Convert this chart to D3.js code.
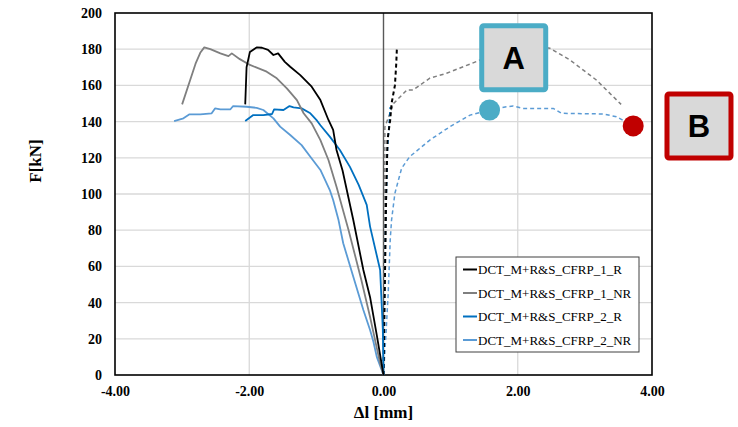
<!DOCTYPE html>
<html>
<head>
<meta charset="utf-8">
<script src="https://cdn.jsdelivr.net/npm/d3@7"></script>
<style>
  body { margin: 0; background: #fff; }
  svg { display: block; }
</style>
</head>
<body>
<div id="chart"></div>
<script>
// values: [Δl mm, F kN]
const cfrp1R = [[-2.06,149.5],[-2.04,170],[-1.99,178.5],[-1.89,181],[-1.81,180.8],[-1.72,179.6],[-1.64,176.8],[-1.57,177.7],[-1.47,173],[-1.39,170.3],[-1.24,165.7],[-1.07,159.3],[-0.94,151.9],[-0.82,140.9],[-0.75,135.4],[-0.70,124.3],[-0.61,113],[-0.45,85.6],[-0.30,58],[-0.20,43],[-0.10,22],[0,0]];
const cfrp1NR = [[-3.0,149.5],[-2.88,163],[-2.80,172],[-2.73,178],[-2.67,181],[-2.58,180],[-2.43,177.7],[-2.31,176.2],[-2.26,177.7],[-2.14,174.5],[-1.99,171.3],[-1.74,167.6],[-1.59,163.9],[-1.44,158.4],[-1.29,151.9],[-1.19,144.6],[-1.07,139],[-0.94,129.8],[-0.82,118.8],[-0.70,104],[-0.52,80],[-0.33,52.5],[-0.20,32],[-0.05,6.4],[0,0]];
const cfrp2R = [[-2.06,140.3],[-1.94,143.6],[-1.79,143.6],[-1.66,144.2],[-1.63,146.8],[-1.49,146.4],[-1.40,148.6],[-1.34,147.9],[-1.22,147.3],[-1.09,144.6],[-0.99,140.5],[-0.94,138],[-0.80,131.7],[-0.65,124.3],[-0.50,115],[-0.37,105],[-0.25,94],[-0.20,82],[-0.05,58],[-0.01,25],[0,0]];
const cfrp2NR = [[-3.12,140.3],[-2.98,141.8],[-2.89,144],[-2.73,144],[-2.56,144.6],[-2.51,147.3],[-2.43,146.8],[-2.28,146.8],[-2.24,148.6],[-2.04,148.2],[-1.89,147.6],[-1.79,146.4],[-1.64,141.8],[-1.54,137.2],[-1.39,132.6],[-1.22,127],[-1.09,120.6],[-0.94,113.3],[-0.80,102.2],[-0.75,96.7],[-0.67,85.6],[-0.60,72.8],[-0.45,54.3],[-0.30,35.9],[-0.20,24.9],[-0.15,18.4],[-0.10,10],[0,0]];

// second gauge (dashed, not in legend)
const cfrp1RDash = [[0,0],[0.02,50],[0.04,100],[0.06,130],[0.10,141],[0.12,150],[0.17,160],[0.19,172],[0.20,181]];
const cfrp1NRDash = [[0,0],[0.01,60],[0.02,120],[0.02,137],[0.15,150],[0.35,157.5],[0.44,157.5],[0.69,164],[0.94,166.7],[1.44,174],[1.90,180],[2.20,182],[2.48,180.5],[2.78,174],[3.17,163],[3.54,149.5]];
const cfrp2RDash = [[0,0],[0.03,80],[0.06,125],[0.10,148]];
const cfrp2NRDash = [[0,0],[0.04,25],[0.07,45],[0.10,74.6],[0.12,85.6],[0.17,100.4],[0.27,114.2],[0.39,120.6],[0.69,129.8],[0.99,137.2],[1.29,143.6],[1.58,146.4],[1.83,148.2],[1.93,148.6],[2.08,147.3],[2.53,147.3],[2.65,144.6],[3.27,144.2],[3.47,142.7],[3.72,137.6]];

const xTicks = [-4, -2, 0, 2, 4];
const yTicks = [0, 20, 40, 60, 80, 100, 120, 140, 160, 180, 200];
const legendNames = ['DCT_M+R&S_CFRP_1_R', 'DCT_M+R&S_CFRP_1_NR', 'DCT_M+R&S_CFRP_2_R', 'DCT_M+R&S_CFRP_2_NR'];
const colors = ['#000000', '#7f7f7f', '#0070c0', '#5b9bd5'];

// marker points and label boxes (data coords)
const markers = [{ x: 1.58, y: 146.4, color: '#4bacc6' }, { x: 3.72, y: 137.6, color: '#c00000' }];
const labels = [{ text: 'A', x: 1.94, y: 175.3, color: '#4bacc6' }, { text: 'B', x: 4.70, y: 137.6, color: '#c00000' }];

const width = 738;
const height = 427;
const margin = { left: 115, right: 86, top: 13, bottom: 52 };

const x = d3.scaleLinear().domain([-4, 4]).range([margin.left, width - margin.right]);
const y = d3.scaleLinear().domain([0, 200]).range([height - margin.bottom, margin.top]);

const svg = d3.select('#chart').append('svg')
  .attr('width', width)
  .attr('height', height);

svg.append('rect').attr('width', width).attr('height', height).attr('fill', '#fff');

// grid
svg.append('g')
  .selectAll('line')
  .data(yTicks.slice(1, -1))
  .enter().append('line')
    .attr('x1', x(-4)).attr('x2', x(4))
    .attr('y1', d => y(d)).attr('y2', d => y(d))
    .attr('stroke', '#d9d9d9').attr('stroke-width', 1.3);

svg.append('g')
  .selectAll('line')
  .data(xTicks.filter(d => d !== 0 && Math.abs(d) !== 4))
  .enter().append('line')
    .attr('x1', d => x(d)).attr('x2', d => x(d))
    .attr('y1', y(0)).attr('y2', y(200))
    .attr('stroke', '#d9d9d9').attr('stroke-width', 1.3);

svg.append('line')
  .attr('x1', x(0)).attr('x2', x(0))
  .attr('y1', y(0)).attr('y2', y(200))
  .attr('stroke', '#595959').attr('stroke-width', 1.4);

// axes (labels only, Excel-style)
const yAxis = svg.append('g')
  .attr('transform', `translate(${margin.left},0)`)
  .call(d3.axisLeft(y).tickValues(yTicks).tickSize(0).tickPadding(13).tickFormat(d => String(d)));
const xAxis = svg.append('g')
  .attr('transform', `translate(0,${y(0)})`)
  .call(d3.axisBottom(x).tickValues(xTicks).tickSize(0).tickPadding(11).tickFormat(d => d.toFixed(2)));

[xAxis, yAxis].forEach(ax => {
  ax.select('.domain').remove();
  ax.selectAll('text')
    .attr('font-family', '"Liberation Serif", "Times New Roman", serif')
    .attr('font-weight', 'bold')
    .attr('font-size', 14)
    .attr('fill', '#000');
});

svg.append('rect')
  .attr('x', x(-4)).attr('y', y(200))
  .attr('width', x(4) - x(-4)).attr('height', y(0) - y(200))
  .attr('fill', 'none').attr('stroke', '#000').attr('stroke-width', 1.6);

svg.append('text')
  .attr('x', x(0)).attr('y', 418)
  .attr('text-anchor', 'middle')
  .attr('font-family', '"Liberation Serif", "Times New Roman", serif')
  .attr('font-weight', 'bold').attr('font-size', 17)
  .text('Δl [mm]');

svg.append('text')
  .attr('transform', `translate(41,${(y(0) + y(200)) / 2 - 33}) rotate(-90)`)
  .attr('text-anchor', 'middle')
  .attr('font-family', '"Liberation Serif", "Times New Roman", serif')
  .attr('font-weight', 'bold').attr('font-size', 17)
  .text('F[kN]');

// curves
const line = d3.line().x(d => x(d[0])).y(d => y(d[1]));

const dashed = [cfrp1NRDash, cfrp2NRDash, cfrp2RDash, cfrp1RDash];
const dashedColors = [colors[1], colors[3], colors[2], colors[0]];
dashed.forEach((s, i) => {
  svg.append('path')
    .attr('d', line(s))
    .attr('fill', 'none')
    .attr('stroke', dashedColors[i])
    .attr('stroke-width', i === 3 ? 2 : 1.5)
    .attr('stroke-dasharray', '4,3');
});

const solid = [cfrp2NR, cfrp2R, cfrp1NR, cfrp1R];
const solidColors = [colors[3], colors[2], colors[1], colors[0]];
solid.forEach((s, i) => {
  svg.append('path')
    .attr('d', line(s))
    .attr('fill', 'none')
    .attr('stroke', solidColors[i])
    .attr('stroke-width', 1.8)
    .attr('stroke-linejoin', 'round');
});

// legend
const legend = svg.append('g').attr('transform', 'translate(456,257)');
legend.append('rect')
  .attr('width', 183).attr('height', 95)
  .attr('fill', '#fff').attr('stroke', '#404040').attr('stroke-width', 1);

const rows = legend.selectAll('g.row')
  .data(legendNames)
  .enter().append('g')
    .attr('class', 'row')
    .attr('transform', (d, i) => `translate(0,${12.5 + i * 23.5})`);
rows.append('line')
  .attr('x1', 7).attr('x2', 21)
  .attr('stroke', (d, i) => colors[i]).attr('stroke-width', 2);
rows.append('text')
  .attr('x', 22).attr('dy', '0.35em')
  .attr('font-family', '"Liberation Serif", "Times New Roman", serif')
  .attr('font-size', 13)
  .text(d => d);

// annotations
svg.selectAll('circle.marker')
  .data(markers)
  .enter().append('circle')
    .attr('class', 'marker')
    .attr('cx', d => x(d.x)).attr('cy', d => y(d.y))
    .attr('r', 10.5)
    .attr('fill', d => d.color);

const boxes = svg.selectAll('g.box')
  .data(labels)
  .enter().append('g')
    .attr('class', 'box')
    .attr('transform', d => `translate(${x(d.x)},${y(d.y)})`);
boxes.append('rect')
  .attr('x', -32).attr('y', -32)
  .attr('width', 64).attr('height', 64)
  .attr('rx', 2)
  .attr('fill', '#d9d9d9')
  .attr('stroke', d => d.color)
  .attr('stroke-width', 5);
boxes.append('text')
  .attr('text-anchor', 'middle')
  .attr('dy', '0.36em')
  .attr('font-family', '"Liberation Sans", Arial, sans-serif')
  .attr('font-weight', 'bold')
  .attr('font-size', 31)
  .text(d => d.text);
</script>
</body>
</html>
